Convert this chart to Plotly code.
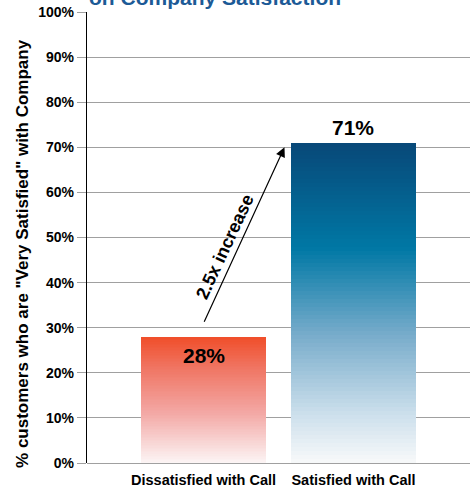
import plotly.graph_objects as go

# ---- data ----
categories = ["Dissatisfied with Call", "Satisfied with Call"]
values = [28, 71]
value_labels = ["28%", "71%"]
arrow_text = "2.5x increase"
title_text = "on Company Satisfaction"
y_title = '% customers who are "Very Satisfied" with Company'
y_ticks = list(range(0, 101, 10))
y_tick_labels = ["%d%%" % v for v in y_ticks]

# ---- styles ----
FONT = "Liberation Sans, Arial, sans-serif"
red_stops = [(0.0, (252, 246, 246)), (0.4, (243, 168, 165)), (0.75, (240, 118, 100)), (1.0, (240, 78, 42))]
blue_stops = [(0.0, (248, 249, 250)), (0.15, (205, 224, 236)), (0.4, (120, 172, 203)), (0.67, (0, 120, 165)), (1.0, (8, 72, 120))]
N = 80


def interp(stops, t):
    for (t0, c0), (t1, c1) in zip(stops, stops[1:]):
        if t <= t1:
            f = (t - t0) / (t1 - t0) if t1 > t0 else 0
            return "rgb(%d,%d,%d)" % tuple(round(a + (b - a) * f) for a, b in zip(c0, c1))
    return "rgb(%d,%d,%d)" % stops[-1][1]


fig = go.Figure()
stops_per_bar = [red_stops, blue_stops]
for i in range(N):
    t = (i + 0.5) / N
    fig.add_trace(go.Bar(
        x=categories,
        y=[v / N for v in values],
        marker=dict(color=[interp(stops_per_bar[k], t) for k in range(len(values))],
                    line=dict(width=0)),
        width=0.833,
        hoverinfo="skip",
        showlegend=False,
    ))

# value labels
fig.add_annotation(x=categories[1], y=values[1], text=value_labels[1], showarrow=False,
                   yanchor="bottom", yshift=2,
                   font=dict(family=FONT, size=21, color="black", weight="bold"))
fig.add_annotation(x=categories[0], y=values[0], text=value_labels[0], showarrow=False,
                   yanchor="top", yshift=-5,
                   font=dict(family=FONT, size=21, color="black", weight="bold"))

# arrow
fig.add_annotation(x=0.54, y=values[1] - 1, ax=0, ay=values[0] + 3,
                   xref="x", yref="y", axref="x", ayref="y",
                   text="", showarrow=True, arrowhead=2, arrowsize=1.6, arrowwidth=1.2,
                   arrowcolor="black")
fig.add_annotation(x=0.14, y=48, xref="x", yref="y", text=arrow_text, showarrow=False,
                   textangle=-65,
                   font=dict(family=FONT, size=18, color="black", weight="bold"))

# title (cut off at top)
fig.add_annotation(x=(215 - 87) / 383, xref="paper", y=1.0, yref="paper", text=title_text,
                   showarrow=False, xanchor="center", yanchor="bottom", yshift=1,
                   font=dict(family=FONT, size=21, color="#1C5A96", weight="bold"))

# y axis title
fig.add_annotation(x=-0.168, xref="paper", y=0.465, yref="paper", text=y_title, showarrow=False,
                   textangle=-90, xanchor="center", yanchor="middle",
                   font=dict(family=FONT, size=17, color="black", weight="bold"))

fig.update_layout(
    barmode="stack",
    width=474, height=489,
    margin=dict(l=87, r=4, t=12, b=26, autoexpand=False),
    paper_bgcolor="white", plot_bgcolor="white",
    bargap=0,
    xaxis=dict(range=[-0.777, 1.777], showline=False, showgrid=False, zeroline=False,
               ticks="", ticklabelstandoff=6, automargin=False,
               tickfont=dict(family=FONT, size=14.5, color="black", weight="bold"),
               fixedrange=True),
    yaxis=dict(range=[0, 100], tickmode="array", tickvals=y_ticks, ticktext=y_tick_labels,
               showgrid=True, automargin=False,
               gridcolor="#A0A0A0", gridwidth=1.3, zeroline=True, zerolinecolor="#A0A0A0",
               zerolinewidth=1.3, showline=True, linecolor="black", linewidth=1.3,
               ticks="outside", ticklen=9, tickcolor="#A0A0A0", tickwidth=1.3,
               tickfont=dict(family=FONT, size=14, color="black", weight="bold"),
               fixedrange=True),
    font=dict(family=FONT),
)

fig.write_html("out.html")
